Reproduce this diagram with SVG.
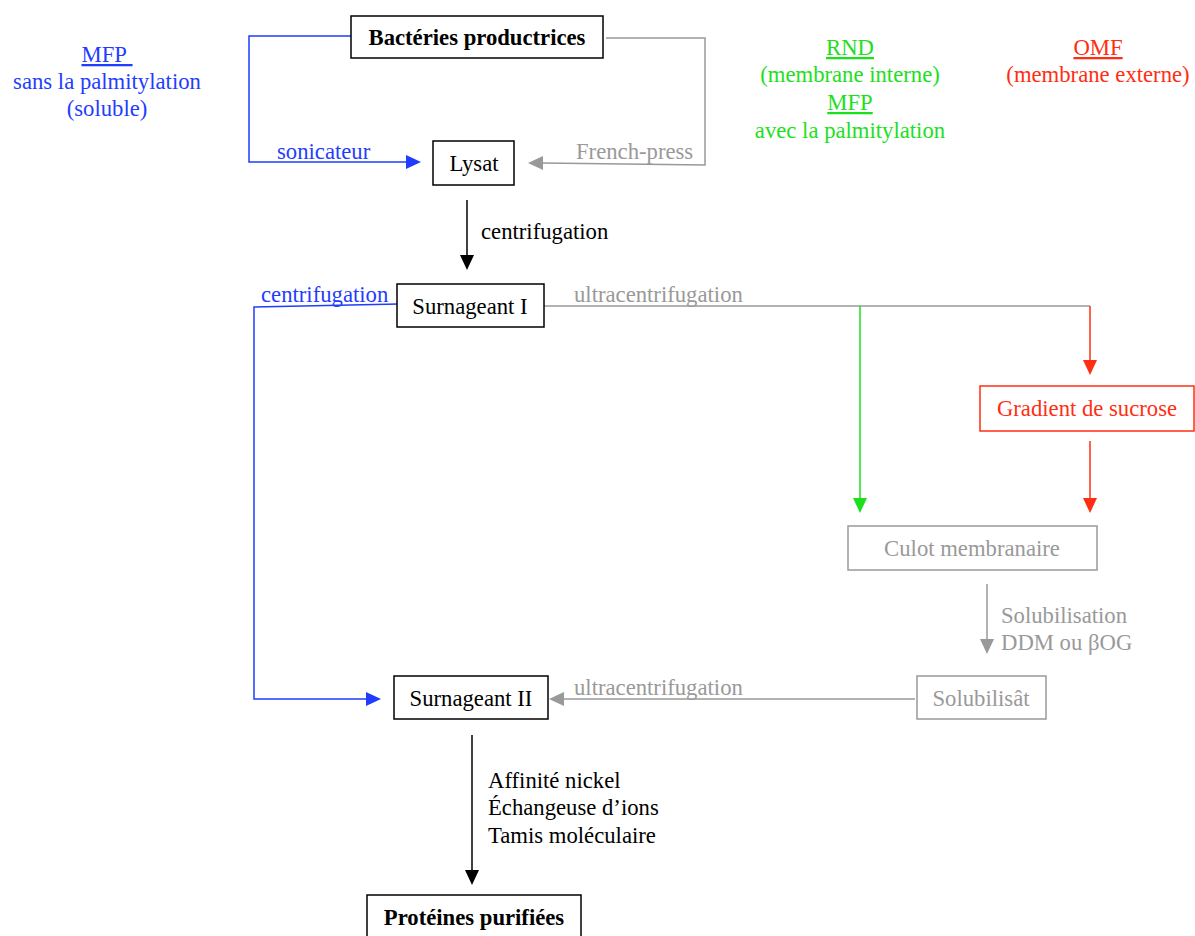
<svg xmlns="http://www.w3.org/2000/svg" width="1195" height="936" viewBox="0 0 1195 936">
<style>
text{font-family:"Liberation Serif","Times New Roman",serif;font-size:22.7px}
.b{fill:#000}.bl{fill:#1f3dff}.g{fill:#999}.gr{fill:#1de01d}.r{fill:#ff2e12}
.bold{font-weight:bold}
.box{fill:#fff;stroke-width:1.5}
.ln{fill:none;stroke-width:1.5}
.m{text-anchor:middle}
</style>
<rect width="1195" height="936" fill="#fff"/>
<g id="legend">
<text class="bl m" x="107" y="62" text-decoration="underline" xml:space="preserve">MFP&#160;</text>
<text class="bl m" x="107" y="89">sans la palmitylation</text>
<text class="bl m" x="107" y="116">(soluble)</text>
<text class="gr m" x="850" y="55" text-decoration="underline">RND</text>
<text class="gr m" x="850" y="82">(membrane interne)</text>
<text class="gr m" x="850" y="110" text-decoration="underline">MFP</text>
<text class="gr m" x="850" y="138">avec la palmitylation</text>
<text class="r m" x="1098" y="55" text-decoration="underline">OMF</text>
<text class="r m" x="1098" y="82">(membrane externe)</text>
</g>
<g id="connectors">
<polyline class="ln" stroke="#1f3dff" points="351,36 249,36 249,162 407,162"/>
<path d="M406,155L421,162L406,169z" fill="#1f3dff"/>
<text class="bl" x="277" y="159">sonicateur</text>
<polyline class="ln" stroke="#999" points="606,38 705,38 705,165 542,163"/>
<path d="M543,156L528,163L543,170z" fill="#999"/>
<text class="g" x="576" y="159">French-press</text>
<line class="ln" stroke="#000" x1="467" y1="200" x2="467" y2="256"/>
<path d="M460,255L467,270L474,255z" fill="#000"/>
<text class="b" x="481" y="239">centrifugation</text>
<polyline class="ln" stroke="#1f3dff" points="399,304 254,307 254,699 367,699"/>
<path d="M366,692L381,699L366,706z" fill="#1f3dff"/>
<text class="bl" x="261" y="302">centrifugation</text>
<line class="ln" stroke="#999" x1="544" y1="306" x2="1090" y2="306"/>
<text class="g" x="574" y="302">ultracentrifugation</text>
<line class="ln" stroke="#1de01d" x1="860" y1="306" x2="860" y2="499"/>
<path d="M853,498L860,513L867,498z" fill="#1de01d"/>
<line class="ln" stroke="#ff2e12" x1="1090" y1="306" x2="1090" y2="361"/>
<path d="M1083,360L1090,375L1097,360z" fill="#ff2e12"/>
<line class="ln" stroke="#ff2e12" x1="1090" y1="441" x2="1090" y2="499"/>
<path d="M1083,498L1090,513L1097,498z" fill="#ff2e12"/>
<line class="ln" stroke="#999" x1="987" y1="584" x2="987" y2="640"/>
<path d="M980,639L987,654L994,639z" fill="#999"/>
<text class="g" x="1001" y="623">Solubilisation</text>
<text class="g" x="1001" y="650">DDM ou βOG</text>
<line class="ln" stroke="#999" x1="915" y1="699" x2="563" y2="699"/>
<path d="M564,692L549,699L564,706z" fill="#999"/>
<text class="g" x="574" y="695">ultracentrifugation</text>
<line class="ln" stroke="#000" x1="472" y1="735" x2="472" y2="871"/>
<path d="M465,870L472,885L479,870z" fill="#000"/>
<text class="b" x="488" y="788">Affinité nickel</text>
<text class="b" x="488" y="815">Échangeuse d’ions</text>
<text class="b" x="488" y="843">Tamis moléculaire</text>
</g>
<g id="bacteries"><rect class="box" stroke="#000" x="351" y="16" width="252" height="42"/><text class="b bold m" x="477" y="45">Bactéries productrices</text></g>
<g id="lysat"><rect class="box" stroke="#000" x="433" y="141" width="81" height="44"/><text class="b m" x="474" y="171">Lysat</text></g>
<g id="surnageant1"><rect class="box" stroke="#000" x="397" y="284" width="147" height="43"/><text class="b m" x="470" y="314">Surnageant I</text></g>
<g id="gradient"><rect class="box" stroke="#ff2e12" x="980" y="386" width="214" height="45"/><text class="r m" x="1087" y="416">Gradient de sucrose</text></g>
<g id="culot"><rect class="box" stroke="#999" x="848" y="526" width="249" height="44"/><text class="g m" x="972" y="556">Culot membranaire</text></g>
<g id="solubilisat"><rect class="box" stroke="#999" x="917" y="676" width="129" height="43"/><text class="g m" x="981" y="706">Solubilisât</text></g>
<g id="surnageant2"><rect class="box" stroke="#000" x="394" y="676" width="154" height="43"/><text class="b m" x="471" y="706">Surnageant II</text></g>
<g id="proteines"><rect class="box" stroke="#000" x="367" y="895" width="214" height="45"/><text class="b bold m" x="474" y="925">Protéines purifiées</text></g>
</svg>
